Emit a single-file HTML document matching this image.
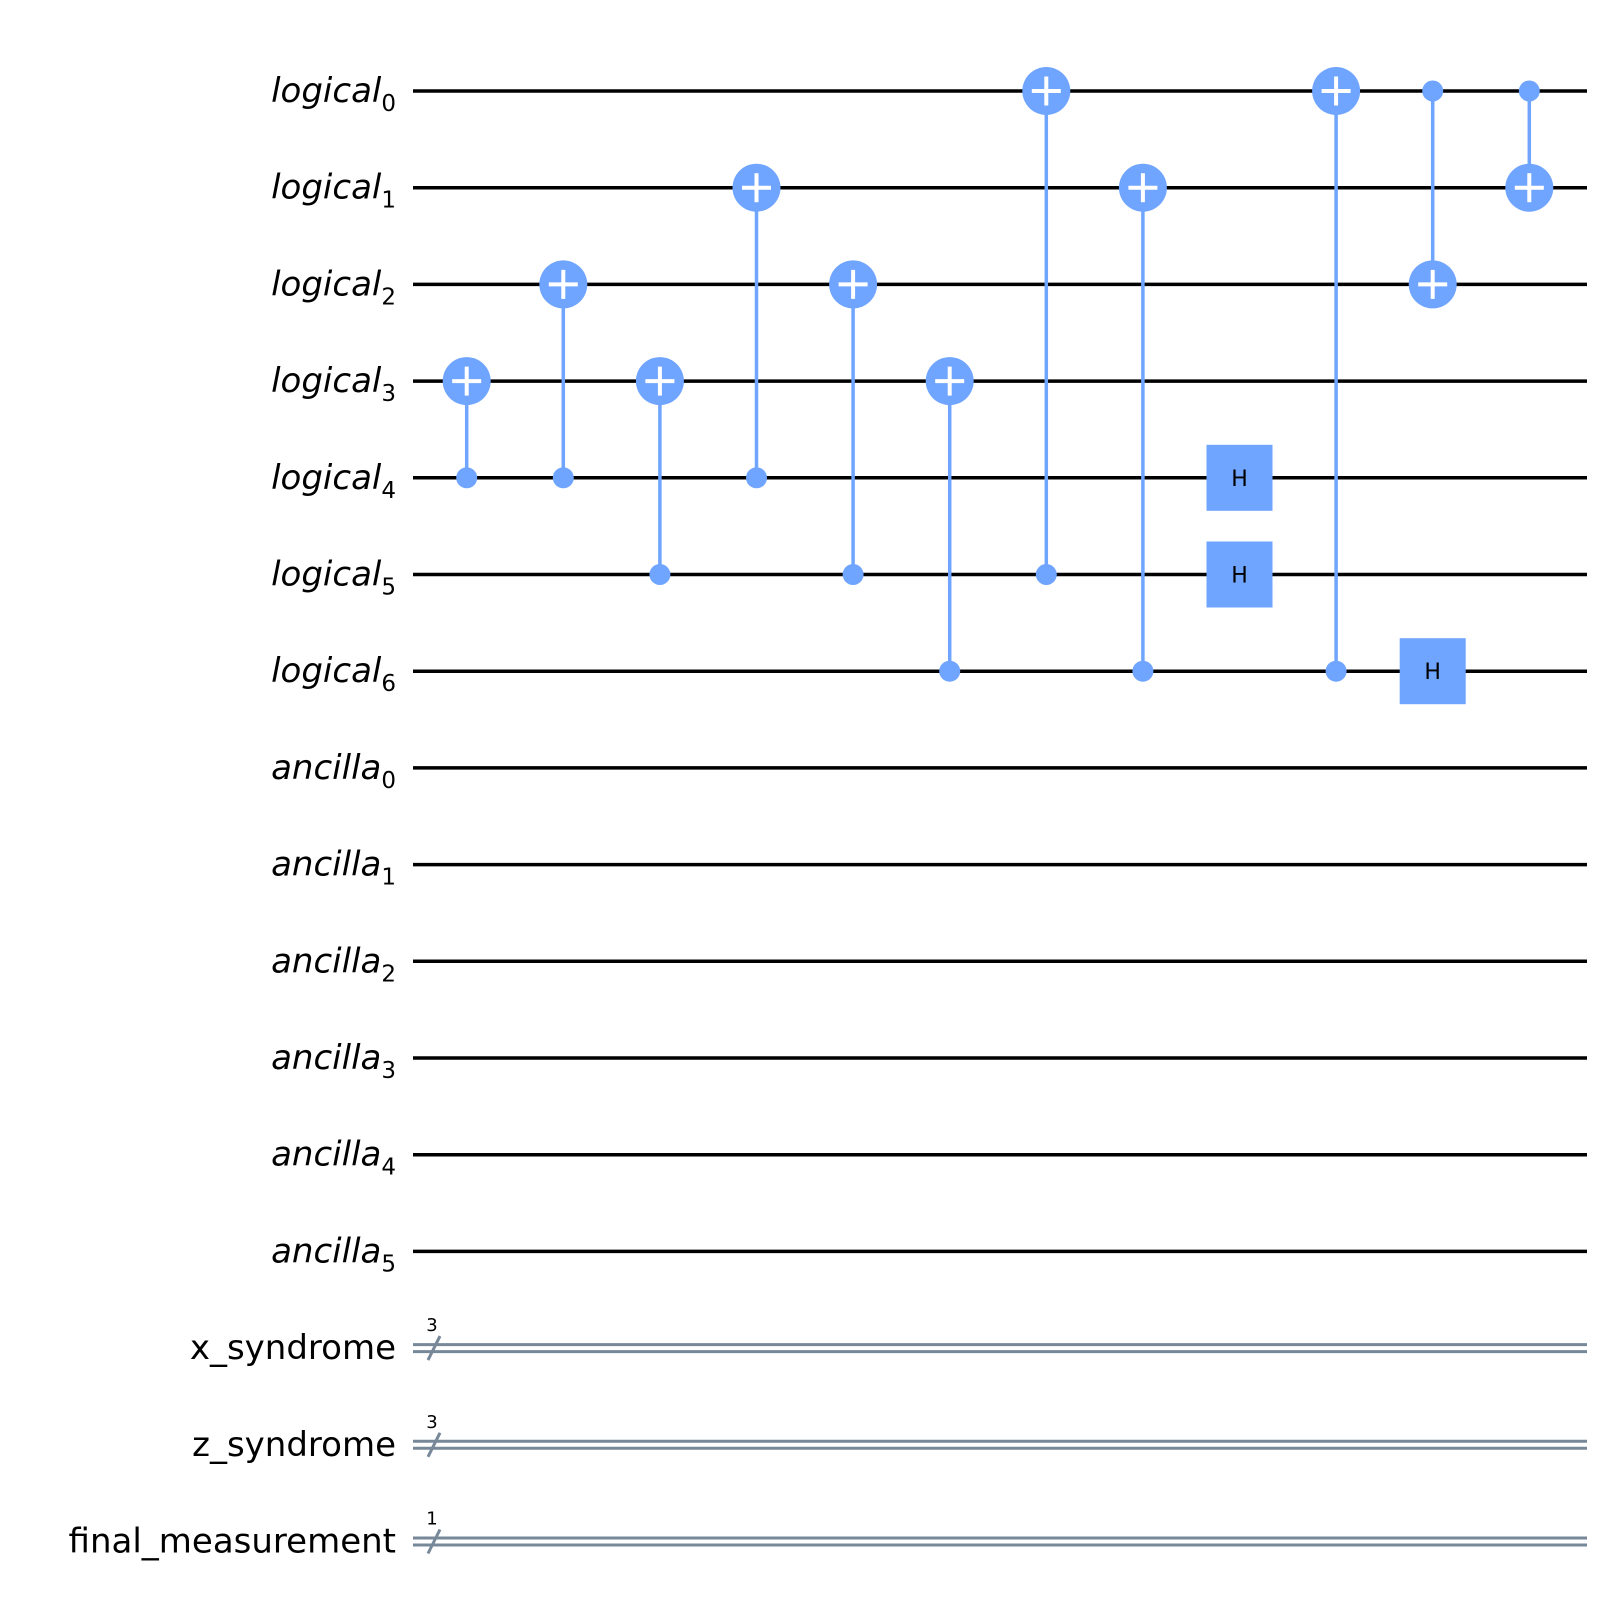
<!DOCTYPE html>
<html><head><meta charset="utf-8"><style>
html,body{margin:0;padding:0;background:#fff}
svg{display:block;font-family:"DejaVu Sans","Liberation Sans",sans-serif}
</style></head><body>
<svg id="c" width="1607" height="1613" viewBox="0 0 1607 1613"></svg>
<script>
const qubits = ["logical","logical","logical","logical","logical","logical","logical","ancilla","ancilla","ancilla","ancilla","ancilla","ancilla"];
const qubitIdx = [0,1,2,3,4,5,6,0,1,2,3,4,5];
const cregs = ["x_syndrome","z_syndrome","final_measurement"];
const cregSizes = [3,3,1];
// gates: [column, target, control]
const cxGates = [[0,3,4],[1,2,4],[2,3,5],[3,1,4],[4,2,5],[5,3,6],[6,0,5],[7,1,6],[9,0,6],[10,2,0],[11,1,0]];
const hGates = [[8,4],[8,5],[10,6]];

const svg = document.getElementById('c');
const NS = 'http://www.w3.org/2000/svg';
const y0 = 91, dy = 96.7, x0 = 413, x1 = 1587, cx0 = 466.7, dcx = 96.6;
const wy = i => y0 + i * dy;
const gx = c => cx0 + c * dcx;
const BLUE = '#6fa4ff', GRAY = '#778899';
function el(tag, attrs, parent) {
  const e = document.createElementNS(NS, tag);
  for (const k in attrs) e.setAttribute(k, attrs[k]);
  (parent || svg).appendChild(e);
  return e;
}
qubits.forEach((q, i) => {
  const y = wy(i);
  const t = el('text', {x: 396, y: y + 11, 'text-anchor': 'end', 'font-size': 34, 'font-style': 'italic'});
  
  
  t.textContent = q;
  const s = document.createElementNS(NS, 'tspan');
  s.setAttribute('font-size', 23); s.setAttribute('font-style', 'normal'); s.setAttribute('dy', 9);
  s.textContent = qubitIdx[i];
  t.appendChild(s);
  const w = el('line', {x1: x0, x2: x1, y1: y, y2: y, stroke: '#000', 'stroke-width': 3.5});
  
  
});
cregs.forEach((c, j) => {
  const y = wy(qubits.length + j);
  const t = el('text', {x: 396, y: y + 11, 'text-anchor': 'end', 'font-size': 34});
  
  
  t.textContent = c;
  const g = el('g', {});
  
  
  el('line', {x1: x0, x2: x1, y1: y - 3.5, y2: y - 3.5, stroke: GRAY, 'stroke-width': 3}, g);
  el('line', {x1: x0, x2: x1, y1: y + 3.5, y2: y + 3.5, stroke: GRAY, 'stroke-width': 3}, g);
  el('line', {x1: 428, x2: 440, y1: y + 12, y2: y - 12, stroke: GRAY, 'stroke-width': 3}, g);
  const n = el('text', {x: 432, y: y - 17, 'text-anchor': 'middle', 'font-size': 18}, g);
  n.textContent = cregSizes[j];
});
cxGates.forEach(([col, tg, ct]) => {
  const x = gx(col), yt = wy(tg), yc = wy(ct);
  const g = el('g', {});
  
  
  el('line', {x1: x, x2: x, y1: yt, y2: yc, stroke: BLUE, 'stroke-width': 3.5}, g);
  el('circle', {cx: x, cy: yc, r: 10.5, fill: BLUE}, g);
  el('circle', {cx: x, cy: yt, r: 24, fill: BLUE}, g);
  el('line', {x1: x - 14.5, x2: x + 14.5, y1: yt, y2: yt, stroke: '#fff', 'stroke-width': 4}, g);
  el('line', {x1: x, x2: x, y1: yt - 14.5, y2: yt + 14.5, stroke: '#fff', 'stroke-width': 4}, g);
});
hGates.forEach(([col, q]) => {
  const x = gx(col), y = wy(q);
  const g = el('g', {});
  
  
  el('rect', {x: x - 33, y: y - 33, width: 66, height: 66, fill: BLUE}, g);
  const t = el('text', {x: x, y: y + 8, 'text-anchor': 'middle', 'font-size': 22}, g);
  t.textContent = 'H';
});
</script>
</body></html>
